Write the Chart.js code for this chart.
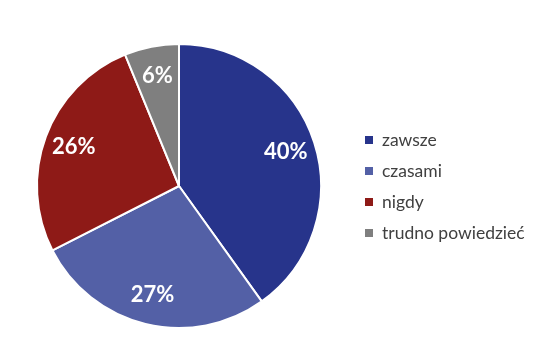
<!DOCTYPE html>
<html>
<head>
<meta charset="utf-8">
<script src="https://cdn.jsdelivr.net/npm/chart.js@4"></script>
<style>
  html, body { margin: 0; padding: 0; background: #fff; }
  #wrap { width: 555px; height: 364px; position: relative; }
</style>
</head>
<body>
<div id="wrap"><canvas id="pie"></canvas></div>
<script>
const categories = ['zawsze', 'czasami', 'nigdy', 'trudno powiedzieć'];
const shares = [40.1, 27.4, 26.3, 6.2];
const shareLabels = ['40%', '27%', '26%', '6%'];
const sliceColors = ['#27348b', '#5360a6', '#8e1a17', '#7f7f7f'];

// slice labels in white bold, placed along the mid-angle
const sliceLabels = {
  id: 'sliceLabels',
  afterDatasetsDraw(chart) {
    const ctx = chart.ctx;
    const meta = chart.getDatasetMeta(0);
    ctx.save();
    ctx.fillStyle = '#ffffff';
    ctx.font = 'bold 22px Lato, sans-serif';
    ctx.textAlign = 'center';
    ctx.textBaseline = 'middle';
    meta.data.forEach((arc, i) => {
      const mid = (arc.startAngle + arc.endAngle) / 2;
      const r = arc.outerRadius * 0.79;
      ctx.fillText(shareLabels[i], arc.x + Math.cos(mid) * r, arc.y + Math.sin(mid) * r);
    });
    ctx.restore();
  }
};

// legend on the right, drawn by hand
const sideLegend = {
  id: 'sideLegend',
  afterDraw(chart) {
    const ctx = chart.ctx;
    ctx.save();
    ctx.font = '17.5px Lato, sans-serif';
    ctx.textBaseline = 'middle';
    chart.data.labels.forEach((lab, i) => {
      const y = 140 + i * 31;
      ctx.fillStyle = sliceColors[i];
      ctx.fillRect(365, y - 4, 8, 8);
      ctx.fillStyle = '#404040';
      ctx.fillText(lab, 382, y);
    });
    ctx.restore();
  }
};

new Chart(document.getElementById('pie'), {
  type: 'pie',
  data: {
    labels: categories,
    datasets: [{
      data: shares,
      backgroundColor: sliceColors,
      borderColor: '#ffffff',
      borderWidth: 2
    }]
  },
  options: {
    responsive: true,
    maintainAspectRatio: false,
    animation: false,
    layout: { padding: { left: 36, top: 43, right: 233, bottom: 35 } },
    plugins: { legend: { display: false }, tooltip: { enabled: false } }
  },
  plugins: [sliceLabels, sideLegend]
});
</script>
</body>
</html>
